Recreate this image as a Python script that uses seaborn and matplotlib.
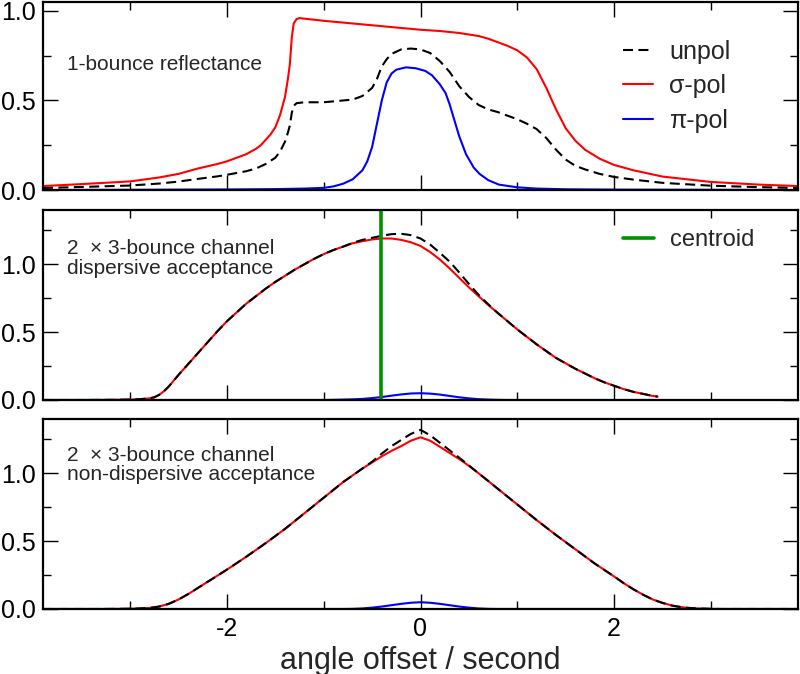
import matplotlib
matplotlib.use("Agg")
import matplotlib.pyplot as plt
import seaborn as sns
from matplotlib.ticker import MultipleLocator, FormatStrFormatter

# ---------------- data ----------------
# Panel 1: 1-bounce reflectance
sig1_x = [-3.9, -3.5, -3.0, -2.7, -2.5, -2.3, -2.1, -2.0, -1.9, -1.8, -1.75, -1.7, -1.65,
          -1.6, -1.55, -1.5, -1.45, -1.4, -1.37, -1.35, -1.33, -1.31, -1.28, -1.25, -1.0,
          -0.5, 0.0, 0.2, 0.4, 0.6, 0.7, 0.8, 0.9, 1.0, 1.1, 1.2, 1.3, 1.4, 1.5, 1.6,
          1.7, 1.85, 2.0, 2.2, 2.5, 3.0, 3.5, 3.9]
sig1_y = [0.022, 0.033, 0.048, 0.07, 0.09, 0.12, 0.145, 0.16, 0.18, 0.20, 0.215, 0.23, 0.25,
          0.28, 0.31, 0.35, 0.42, 0.52, 0.62, 0.70, 0.85, 0.93, 0.955, 0.96, 0.945,
          0.92, 0.895, 0.888, 0.877, 0.86, 0.845, 0.825, 0.805, 0.78, 0.74, 0.675, 0.57,
          0.45, 0.345, 0.275, 0.225, 0.175, 0.14, 0.11, 0.075, 0.045, 0.03, 0.022]

unp1_x = [-3.9, -3.5, -3.0, -2.7, -2.5, -2.3, -2.1, -2.0, -1.9, -1.8, -1.7, -1.6, -1.5,
          -1.45, -1.4, -1.37, -1.35, -1.33, -1.31, -1.28, -1.2, -1.0, -0.8, -0.7, -0.6,
          -0.5, -0.45, -0.4, -0.35, -0.3, -0.2, -0.1, 0.0, 0.1, 0.2, 0.3, 0.4, 0.5, 0.6,
          0.7, 0.8, 0.9, 1.0, 1.1, 1.2, 1.3, 1.4, 1.5, 1.6, 1.7, 1.85, 2.0, 2.2, 2.5,
          3.0, 3.5, 3.9]
unp1_y = [0.011, 0.017, 0.025, 0.036, 0.047, 0.062, 0.076, 0.085, 0.095, 0.105, 0.12, 0.145, 0.18,
          0.215, 0.27, 0.32, 0.36, 0.43, 0.47, 0.485, 0.49, 0.49, 0.50, 0.505, 0.525,
          0.57, 0.62, 0.69, 0.73, 0.76, 0.785, 0.79, 0.785, 0.765, 0.72, 0.66, 0.58, 0.52, 0.475,
          0.45, 0.435, 0.415, 0.395, 0.37, 0.34, 0.29, 0.225, 0.17, 0.135, 0.115, 0.09, 0.073, 0.058, 0.04,
          0.024, 0.016, 0.011]

pi1_x = [-3.9, -3.0, -2.0, -1.5, -1.2, -1.0, -0.9, -0.8, -0.7, -0.6, -0.55, -0.5, -0.45,
         -0.4, -0.35, -0.3, -0.25, -0.15, -0.05, 0.05, 0.12, 0.2, 0.26, 0.3, 0.35, 0.4,
         0.47, 0.55, 0.61, 0.7, 0.81, 1.0, 1.2, 1.5, 2.0, 3.0, 3.9]
pi1_y = [0.0, 0.001, 0.003, 0.005, 0.008, 0.012, 0.02, 0.035, 0.06, 0.11, 0.16, 0.24, 0.37,
         0.50, 0.60, 0.65, 0.672, 0.685, 0.68, 0.665, 0.64, 0.59, 0.54, 0.48, 0.39, 0.30,
         0.20, 0.125, 0.09, 0.055, 0.03, 0.015, 0.008, 0.004, 0.002, 0.001, 0.0]

# Panel 2: 2 x 3-bounce channel, dispersive acceptance
x2 = [-3.9, -3.5, -3.2, -3.0, -2.9,
      -2.8, -2.75, -2.7, -2.65, -2.6,
      -2.5, -2.4, -2.3, -2.2, -2.1, -2.0,
      -1.9, -1.8, -1.7, -1.6, -1.5, -1.4, -1.3, -1.2, -1.1, -1.0,
      -0.9, -0.8, -0.7, -0.6, -0.5, -0.4, -0.3, -0.2, -0.1, 0.0,
      0.1, 0.2, 0.3, 0.4, 0.5, 0.6, 0.7, 0.8, 0.9, 1.0,
      1.1, 1.2, 1.3, 1.4, 1.5, 1.6, 1.7, 1.8, 1.9, 2.0,
      2.1, 2.2, 2.3, 2.4, 2.45]
sig2 = [0.0, 0.0, 0.001, 0.003, 0.006,
        0.012, 0.02, 0.038, 0.065, 0.10,
        0.185, 0.265, 0.345, 0.425, 0.505, 0.58,
        0.645, 0.71, 0.765, 0.82, 0.87, 0.915, 0.96, 1.0, 1.04, 1.075,
        1.105, 1.13, 1.155, 1.17, 1.183, 1.19, 1.19, 1.18, 1.162, 1.135,
        1.09, 1.035, 0.97, 0.90, 0.83, 0.765, 0.70, 0.64, 0.58, 0.52,
        0.465, 0.41, 0.36, 0.31, 0.27, 0.23, 0.195, 0.16, 0.13, 0.105,
        0.08, 0.06, 0.045, 0.03, 0.025]
unp2 = [0.0, 0.0, 0.001, 0.003, 0.006,
        0.012, 0.02, 0.038, 0.065, 0.10,
        0.185, 0.265, 0.345, 0.425, 0.505, 0.58,
        0.645, 0.71, 0.765, 0.82, 0.87, 0.915, 0.96, 1.0, 1.04, 1.075,
        1.105, 1.13, 1.158, 1.18, 1.195, 1.21, 1.222, 1.225, 1.215, 1.19,
        1.145, 1.085, 1.02, 0.94, 0.855, 0.775, 0.705, 0.64, 0.58, 0.52,
        0.465, 0.41, 0.36, 0.31, 0.27, 0.23, 0.195, 0.16, 0.13, 0.105,
        0.08, 0.06, 0.045, 0.03, 0.025]
pi2 = [0.0, 0.0, 0.0, 0.0, 0.0,
       0.0, 0.0, 0.0, 0.0, 0.0,
       0.0, 0.0, 0.0, 0.0, 0.0, 0.0,
       0.0, 0.0, 0.0, 0.0, 0.0, 0.0, 0.0, 0.0, 0.0, 0.0,
       0.001, 0.003, 0.005, 0.008, 0.014, 0.022, 0.032, 0.041, 0.048, 0.05,
       0.047, 0.04, 0.03, 0.02, 0.012, 0.006, 0.003, 0.001, 0.0, 0.0,
       0.0, 0.0, 0.0, 0.0, 0.0, 0.0, 0.0, 0.0, 0.0, 0.0,
       0.0, 0.0, 0.0, 0.0, 0.0]
centroid_x = -0.405

# Panel 3: 2 x 3-bounce channel, non-dispersive acceptance
x3 = [-3.9, -3.5, -3.3, -3.1, -3.0,
      -2.9, -2.8, -2.7, -2.6, -2.5,
      -2.4, -2.3, -2.2, -2.1, -2.0,
      -1.8, -1.6, -1.4, -1.2, -1.0,
      -0.8, -0.7, -0.6, -0.5, -0.4,
      -0.3, -0.2, -0.1, 0.0, 0.1,
      0.2, 0.3, 0.4, 0.5, 0.6,
      0.7, 0.8, 1.0, 1.2, 1.4,
      1.6, 1.8, 2.0, 2.1, 2.2,
      2.3, 2.4, 2.5, 2.6, 2.7,
      2.8, 2.9, 3.0, 3.1, 3.3,
      3.5, 3.9]
sig3 = [0.0, 0.0, 0.0, 0.001, 0.002,
        0.004, 0.008, 0.018, 0.038, 0.07,
        0.11, 0.155, 0.20, 0.245, 0.29,
        0.385, 0.485, 0.59, 0.705, 0.82,
        0.935, 0.985, 1.035, 1.08, 1.125,
        1.165, 1.20, 1.24, 1.265, 1.24,
        1.195, 1.15, 1.105, 1.055, 1.0,
        0.943, 0.885, 0.77, 0.655, 0.545,
        0.44, 0.335, 0.24, 0.19, 0.145,
        0.105, 0.07, 0.045, 0.025, 0.013,
        0.006, 0.003, 0.001, 0.0, 0.0,
        0.0, 0.0]
unp3 = [0.0, 0.0, 0.0, 0.001, 0.002,
        0.004, 0.008, 0.018, 0.038, 0.07,
        0.11, 0.155, 0.20, 0.245, 0.29,
        0.385, 0.485, 0.59, 0.705, 0.82,
        0.935, 0.985, 1.035, 1.085, 1.145,
        1.20, 1.245, 1.29, 1.32, 1.28,
        1.225, 1.17, 1.115, 1.058, 1.0,
        0.943, 0.885, 0.77, 0.655, 0.545,
        0.44, 0.335, 0.24, 0.19, 0.145,
        0.105, 0.07, 0.045, 0.025, 0.013,
        0.006, 0.003, 0.001, 0.0, 0.0,
        0.0, 0.0]
pi3 = [0.0, 0.0, 0.0, 0.0, 0.0,
       0.0, 0.0, 0.0, 0.0, 0.0,
       0.0, 0.0, 0.0, 0.0, 0.0,
       0.0, 0.0, 0.0, 0.0, 0.0,
       0.0, 0.001, 0.004, 0.01, 0.018,
       0.028, 0.038, 0.046, 0.05, 0.046,
       0.038, 0.028, 0.018, 0.01, 0.004,
       0.001, 0.0, 0.0, 0.0, 0.0,
       0.0, 0.0, 0.0, 0.0, 0.0,
       0.0, 0.0, 0.0, 0.0, 0.0,
       0.0, 0.0, 0.0, 0.0, 0.0,
       0.0, 0.0]

labels = ["unpol", "\u03c3-pol", "\u03c0-pol"]
panel_texts = ["1-bounce reflectance",
               "2  \u00d7 3-bounce channel\ndispersive acceptance",
               "2  \u00d7 3-bounce channel\nnon-dispersive acceptance"]
xlabel = "angle offset / second"

# ---------------- style ----------------
sns.set_theme(style="ticks")
plt.rcParams['font.family'] = ['Liberation Sans', 'DejaVu Sans']
plt.rcParams['axes.unicode_minus'] = False
plt.rcParams['axes.linewidth'] = 1.6

fig = plt.figure(figsize=(8, 6.74), dpi=100)
left, width = 43 / 800, 755 / 800
ax1 = fig.add_axes([left, 1 - 190 / 674, width, 188 / 674])
ax2 = fig.add_axes([left, 1 - 400 / 674, width, 190 / 674])
ax3 = fig.add_axes([left, 1 - 609 / 674, width, 190 / 674])

dash = (0, (4.8, 2.6))
lw = 1.5


def draw(ax, xs, ys, color, label=None, ls='-'):
    sns.lineplot(x=xs, y=ys, ax=ax, color=color, linewidth=lw, linestyle=ls,
                 estimator=None, sort=False, label=label, legend=False)


# panel 1
draw(ax1, sig1_x, sig1_y, 'red', labels[1])
draw(ax1, pi1_x, pi1_y, 'blue', labels[2])
draw(ax1, unp1_x, unp1_y, 'black', labels[0], dash)
# panel 2
draw(ax2, x2, pi2, 'blue')
draw(ax2, x2, sig2, 'red')
draw(ax2, x2, unp2, 'black', None, dash)
ax2.axvline(centroid_x, color='#009000', linewidth=2.6, label='centroid', zorder=3)
# panel 3
draw(ax3, x3, pi3, 'blue')
draw(ax3, x3, sig3, 'red')
draw(ax3, x3, unp3, 'black', None, dash)

for ax, ytop in ((ax1, 1.05), (ax2, 1.4), (ax3, 1.4)):
    ax.set_xlim(-3.9, 3.9)
    ax.set_ylim(0, ytop)
    ax.xaxis.set_major_locator(MultipleLocator(2))
    ax.xaxis.set_minor_locator(MultipleLocator(1))
    ax.yaxis.set_major_locator(MultipleLocator(0.5))
    ax.yaxis.set_minor_locator(MultipleLocator(0.25))
    ax.yaxis.set_major_formatter(FormatStrFormatter('%.1f'))
    ax.tick_params(which='both', direction='in', top=True, right=True,
                   width=1.0, labelsize=18, pad=5, colors='black')
    ax.tick_params(which='major', length=11)
    ax.tick_params(which='minor', length=5.5)
    ax.set_xlabel("")
    ax.set_ylabel("")
    for s in ax.spines.values():
        s.set_color('black')
        s.set_linewidth(1.6)
        s.set_zorder(4)

ax1.tick_params(labelbottom=False)
ax2.tick_params(labelbottom=False)
ax3.tick_params(axis='x', pad=6)
ax3.set_xlabel(xlabel, fontsize=22, labelpad=3)

ax1.text(0.032, 0.665, panel_texts[0], transform=ax1.transAxes, fontsize=15,
         va='center', ha='left')
ax2.text(0.032, 0.745, panel_texts[1], transform=ax2.transAxes, fontsize=15,
         va='center', ha='left', linespacing=1.05)
ax3.text(0.032, 0.758, panel_texts[2], transform=ax3.transAxes, fontsize=15,
         va='center', ha='left', linespacing=1.05)

h, l = ax1.get_legend_handles_labels()
order = [l.index(lab) for lab in labels]
ax1.legend([h[i] for i in order], [l[i] for i in order], loc='upper left',
           bbox_to_anchor=(0.768, 0.80), frameon=False, fontsize=18,
           handlelength=1.2, handletextpad=0.65, labelspacing=0.42,
           borderpad=0, borderaxespad=0)
ax2.legend(loc='upper left', bbox_to_anchor=(0.768, 0.90), frameon=False, fontsize=17,
           handlelength=1.3, handletextpad=0.7, borderpad=0, borderaxespad=0)

fig.savefig("out.png", dpi=100)
